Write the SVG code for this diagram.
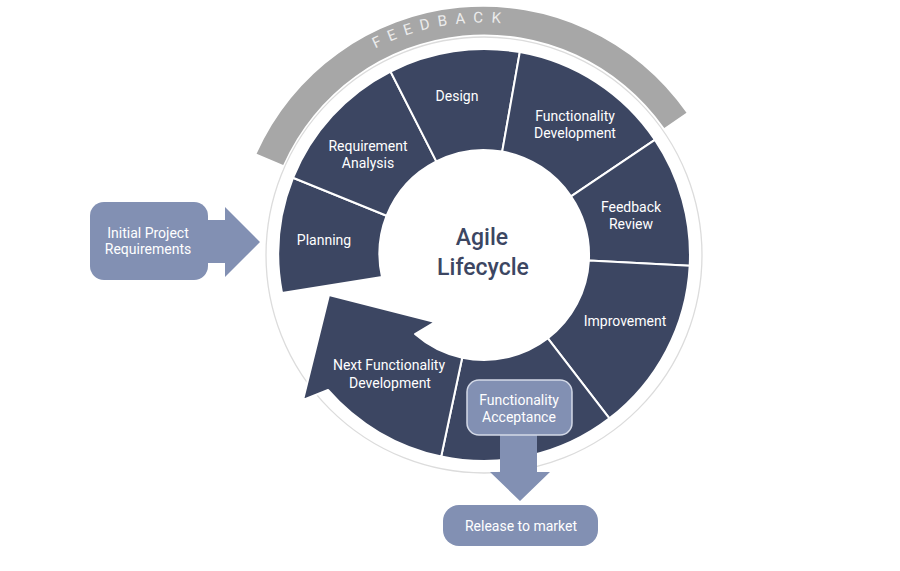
<svg xmlns="http://www.w3.org/2000/svg" width="900" height="571" viewBox="0 0 900 571">
<style>
.seg{fill:#3c4662;stroke:#ffffff;stroke-width:2;stroke-linejoin:round}
.lbl{font-family:Roboto,"Noto Sans",sans-serif;font-size:14px;fill:#ffffff;text-anchor:middle}
.box{fill:#8290b3}
.conn{fill:#8290b3}
.title{font-family:Roboto,"Noto Sans",sans-serif;font-size:23px;font-weight:500;fill:#3c4662;text-anchor:middle}
.fb{font-family:Roboto,"Noto Sans",sans-serif;font-size:15px;fill:#ececec;letter-spacing:8px}
</style>
<defs>
<path id="fbArc2" d="M 267.7,168.6 A 230 230 0 0 1 654.9,101.1"/>
</defs>
<rect width="900" height="571" fill="#ffffff"/>

<g id="feedback">
<path d="M 256.6,153.8 A 248 248 0 0 1 686.5,112.8 L 664.3,128.0 A 220 220 0 0 0 283.2,165.1 Z" fill="#a7a7a7"/>
<text class="fb"><textPath href="#fbArc2" startOffset="49.5%" text-anchor="middle">FEEDBACK</textPath></text>
</g>

<circle cx="484" cy="255" r="218" fill="none" stroke="#dcdcdc" stroke-width="1.3"/>

<g id="planning">
<path class="seg" d="M 282,293 A 206 206 0 0 1 293,177.8 L 386.6,215.7 A 105 105 0 0 0 382,277 Z"/>
<text class="lbl" x="324" y="245">Planning</text>
</g>
<g id="requirement-analysis">
<path class="seg" d="M 293,177.8 A 206 206 0 0 1 390.5,71.5 L 436.3,161.4 A 105 105 0 0 0 386.6,215.7 Z"/>
<text class="lbl" x="368" y="151">Requirement</text>
<text class="lbl" x="368" y="168">Analysis</text>
</g>
<g id="design">
<path class="seg" d="M 390.5,71.5 A 206 206 0 0 1 519.8,52.1 L 502.2,151.6 A 105 105 0 0 0 436.3,161.4 Z"/>
<text class="lbl" x="457" y="101">Design</text>
</g>
<g id="functionality-development">
<path class="seg" d="M 519.8,52.1 A 206 206 0 0 1 654.8,139.8 L 571,196.3 A 105 105 0 0 0 502.2,151.6 Z"/>
<text class="lbl" x="575" y="121">Functionality</text>
<text class="lbl" x="575" y="138">Development</text>
</g>
<g id="feedback-review">
<path class="seg" d="M 654.8,139.8 A 206 206 0 0 1 689.7,265.8 L 588.9,260.5 A 105 105 0 0 0 571,196.3 Z"/>
<text class="lbl" x="631" y="212">Feedback</text>
<text class="lbl" x="631" y="229">Review</text>
</g>
<g id="improvement">
<path class="seg" d="M 689.7,265.8 A 206 206 0 0 1 609.4,418.4 L 547.9,338.3 A 105 105 0 0 0 588.9,260.5 Z"/>
<text class="lbl" x="625" y="326">Improvement</text>
</g>
<g id="functionality-acceptance-segment">
<path class="seg" d="M 609.4,418.4 A 206 206 0 0 1 441.2,456.5 L 462.2,357.7 A 105 105 0 0 0 547.9,338.3 Z"/>
</g>
<g id="next-functionality-development">
<path class="seg" d="M 441.2,456.5 A 206 206 0 0 1 328,390 L 303,400 L 329,295 L 435,322 L 415,334 A 105 105 0 0 0 462.2,357.7 Z"/>
<text class="lbl" x="389" y="370">Next Functionality</text>
<text class="lbl" x="390" y="388">Development</text>
</g>

<g id="center">
<text class="title" x="482" y="245">Agile</text>
<text class="title" x="483" y="275">Lifecycle</text>
</g>

<g id="connectors">
<polygon class="conn" points="204,220 225,220 225,207 260,242 225,277 225,263 204,263"/>
<polygon class="conn" points="500,430 537,430 537,472 550,472 520,501 490,472 500,472"/>
</g>

<g id="initial-project-requirements">
<rect class="box" x="90" y="202" width="118" height="78" rx="14"/>
<text class="lbl" x="148" y="238">Initial Project</text>
<text class="lbl" x="148" y="254">Requirements</text>
</g>

<g id="functionality-acceptance">
<rect class="box" x="467" y="380" width="105" height="55" rx="12" stroke="#d3d9e7" stroke-width="1.5"/>
<text class="lbl" x="519" y="405">Functionality</text>
<text class="lbl" x="519" y="422">Acceptance</text>
</g>

<g id="release-to-market">
<rect class="box" x="443" y="505" width="155" height="41" rx="16"/>
<text class="lbl" x="521" y="531">Release to market</text>
</g>
</svg>
